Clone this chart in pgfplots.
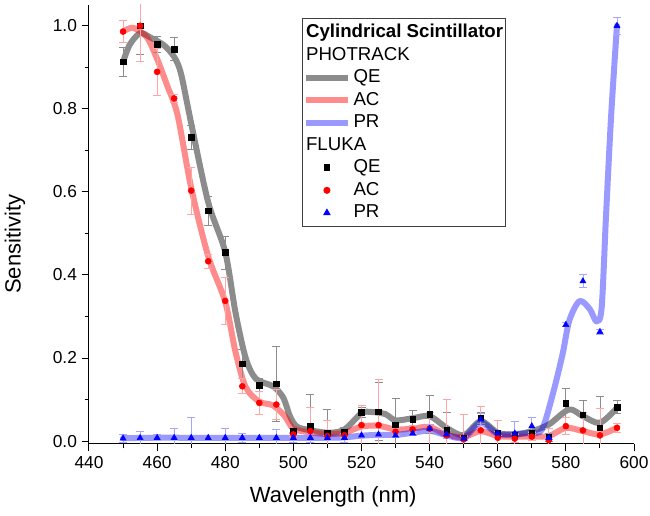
\documentclass[border=0pt]{standalone}
\usepackage{fontspec}
\setmainfont{Liberation Sans}
\usepackage{pgfplots}
\usepackage{pgfplotstable}
\pgfplotsset{compat=1.18}

% PHOTRACK curves
\pgfplotstableread{
x y
450 0.913
452 0.955
455 0.982
458 0.972
462 0.953
465 0.925
467 0.885
470 0.765
475 0.575
480 0.455
483 0.31
486 0.2
489 0.15
494 0.132
497 0.105
499 0.06
501 0.035
505 0.026
510.5 0.02
515 0.028
520 0.067
523 0.07
527 0.065
530 0.05
535 0.055
540 0.06
545 0.032
550 0.014
555 0.048
560 0.02
565 0.016
570 0.024
575 0.04
580.9 0.076
585 0.06
590 0.044
595 0.08
}\qecurve

\pgfplotstableread{
x y
450 0.986
453 0.995
457 0.972
460 0.92
463 0.855
466 0.785
470 0.61
475 0.445
480 0.335
483 0.215
486 0.13
490 0.095
494 0.086
497.5 0.06
500 0.03
505 0.021
510 0.017
515 0.02
520 0.035
525 0.037
530 0.028
535 0.03
540 0.034
545 0.015
550 0.01
555 0.024
560 0.012
565 0.011
570 0.011
575 0.012
580 0.032
585 0.024
590 0.016
595 0.032
}\accurve

\pgfplotstableread{
x y
450 0.007
460 0.008
470 0.008
480 0.008
490 0.008
500 0.008
510 0.008
515 0.009
520 0.013
525 0.015
530 0.015
535 0.02
540 0.025
545 0.014
550 0.008
555 0.044
560 0.017
565 0.017
570 0.02
573 0.028
576 0.108
579 0.208
581 0.29
584 0.337
587 0.318
589 0.288
590.5 0.321
591.8 0.545
593.3 0.785
595 1.0
}\prcurve

% FLUKA data with errors
\pgfplotstableread{
x y e
450 0.913 0.036
455 1.000 0.07
460 0.955 0.02
465 0.944 0.027
470 0.731 0.029
475 0.555 0.035
480 0.454 0.04
485 0.186 0.034
490 0.135 0.015
495 0.138 0.09
500 0.024 0.006
505 0.036 0.076
510 0.019 0.057
515 0.022 0.01
520 0.069 0.012
525 0.071 0.07
530 0.039 0.064
535 0.053 0.021
540 0.064 0.046
545 0.026 0.042
550 0.008 0.005
555 0.056 0.014
560 0.019 0.005
565 0.014 0.005
570 0.019 0.005
575 0.009 0.01
580 0.091 0.035
585 0.063 0.035
590 0.032 0.075
595 0.082 0.016
}\qedata

\pgfplotstableread{
x y e
450 0.986 0.027
455 1.000 0.085
460 0.889 0.057
465 0.825 0.01
470 0.603 0.056
475 0.433 0.017
480 0.3375 0.056
485 0.132 0.018
490 0.092 0.028
495 0.088 0.036
500 0.016 0.005
505 0.024 0.058
510 0.012 0.038
515 0.014 0.005
520 0.0385 0.047
525 0.0385 0.11
530 0.0226 0.01
535 0.028 0.01
540 0.03 0.04
545 0.0137 0.086
550 0.004 0.06
555 0.026 0.057
560 0.008 0.042
565 0.006 0.01
570 0.0106 0.01
575 0.0024 0.027
580 0.036 0.021
585 0.0257 0.043
590 0.0137 0.064
595 0.032 0.01
}\acdata

\pgfplotstableread{
x y e
450 0.0065 0.009
455 0.0075 0.016
460 0.008 0.007
465 0.008 0.022
470 0.008 0.05
475 0.008 0.003
480 0.008 0.022
485 0.008 0.01
490 0.008 0.005
495 0.008 0.02
500 0.008 0.01
505 0.008 0.01
510 0.008 0.005
515 0.008 0.01
520 0.0137 0.005
525 0.016 0.005
530 0.0137 0.005
535 0.0185 0.005
540 0.03 0.01
545 0.016 0.01
550 0.006 0.005
555 0.052 0.015
560 0.0185 0.005
565 0.0185 0.03
570 0.036 0.02
575 0.008 0.005
580 0.28 0.005
585 0.385 0.016
590 0.263 0.005
595 1.0 0.02
}\prdata

\definecolor{framegray}{RGB}{64,64,64}

\begin{document}
\begin{tikzpicture}
\begin{axis}[
  scale only axis, width=408.75pt, height=329.25pt,
  xmin=440, xmax=600, ymin=-0.007, ymax=1.05,
  axis lines*=left,
  axis line style={line width=0.75pt, black},
  tick style={line width=0.75pt, black},
  tick align=outside,
  major tick length=5.5pt, minor tick length=3.2pt,
  xtick={440,460,...,600}, minor x tick num=1,
  ytick={0,0.2,0.4,0.6,0.8,1.0}, minor y tick num=1,
  yticklabel style={/pgf/number format/.cd, fixed, fixed zerofill, precision=1},
  /pgf/number format/assume math mode=true,
  ticklabel style={font=\fontsize{13}{15}\selectfont},
  xlabel={Wavelength (nm)}, ylabel={Sensitivity},
  label style={font=\fontsize{16.5}{19}\selectfont},
  xlabel style={at={(axis description cs:0.448,-0.121)}, anchor=center},
  ylabel style={at={(axis description cs:-0.136,0.455)}, anchor=center},
  legend style={at={(axis description cs:0.391,0.970)}, anchor=north west,
    draw=framegray, line width=0.75pt, inner xsep=0pt, inner ysep=2pt,
    font=\fontsize{14}{16}\selectfont,
    nodes={inner sep=1.7pt, text height=10.5pt, text depth=3pt}, row sep=0pt},
  legend cell align=left,
  legend image code/.code={\draw[mark repeat=2,mark phase=2,#1] plot coordinates {(0pt,0pt) (16pt,0pt) (32pt,0pt)};},
]
\addlegendimage{empty legend}
\addlegendentry{\hspace*{-35.6pt}\textbf{Cylindrical Scintillator}}
\addlegendimage{empty legend}
\addlegendentry{\hspace*{-35.6pt}PHOTRACK}
\addlegendimage{no marks, line width=4.5pt, black, opacity=0.45}
\addlegendentry{QE}
\addlegendimage{no marks, line width=4.5pt, red, opacity=0.45}
\addlegendentry{AC}
\addlegendimage{no marks, line width=4.5pt, blue, opacity=0.4}
\addlegendentry{PR}
\addlegendimage{empty legend}
\addlegendentry{\hspace*{-35.6pt}FLUKA}
\addlegendimage{only marks, mark=square*, mark size=2.1pt, black}
\addlegendentry{QE}
\addlegendimage{only marks, mark=*, mark size=2.25pt, red}
\addlegendentry{AC}
\addlegendimage{only marks, mark=triangle*, mark size=2.6pt, blue}
\addlegendentry{PR}

\addplot[forget plot, no marks, smooth, line width=4.5pt, black, opacity=0.45, line join=round, line cap=round] table[x=x,y=y]{\qecurve};
\addplot[forget plot, no marks, smooth, line width=4.5pt, red, opacity=0.45, line join=round, line cap=round] table[x=x,y=y]{\accurve};
\addplot[forget plot, no marks, smooth, line width=4.5pt, blue, opacity=0.4, line join=round, line cap=round] table[x=x,y=y]{\prcurve};

\addplot[forget plot, only marks, mark=square*, mark size=2.1pt, black,
  error bars/.cd, y dir=both, y explicit,
  error bar style={line width=0.6pt, color=black!45},
  error mark options={rotate=90, mark size=3pt, line width=0.6pt, color=black!45}]
  table[x=x, y=y, y error=e]{\qedata};
\addplot[forget plot, only marks, mark=*, mark size=2.25pt, red,
  error bars/.cd, y dir=both, y explicit,
  error bar style={line width=0.6pt, color=red!35},
  error mark options={rotate=90, mark size=3pt, line width=0.6pt, color=red!35}]
  table[x=x, y=y, y error=e]{\acdata};
\addplot[forget plot, only marks, mark=triangle*, mark size=2.6pt, blue,
  error bars/.cd, y dir=both, y explicit,
  error bar style={line width=0.6pt, color=blue!35},
  error mark options={rotate=90, mark size=3pt, line width=0.6pt, color=blue!35}]
  table[x=x, y=y, y error=e]{\prdata};
\end{axis}
\pgfresetboundingbox
\path[use as bounding box] (-66.75pt,-54pt) rectangle (420.75pt,333pt);
\end{tikzpicture}
\end{document}
